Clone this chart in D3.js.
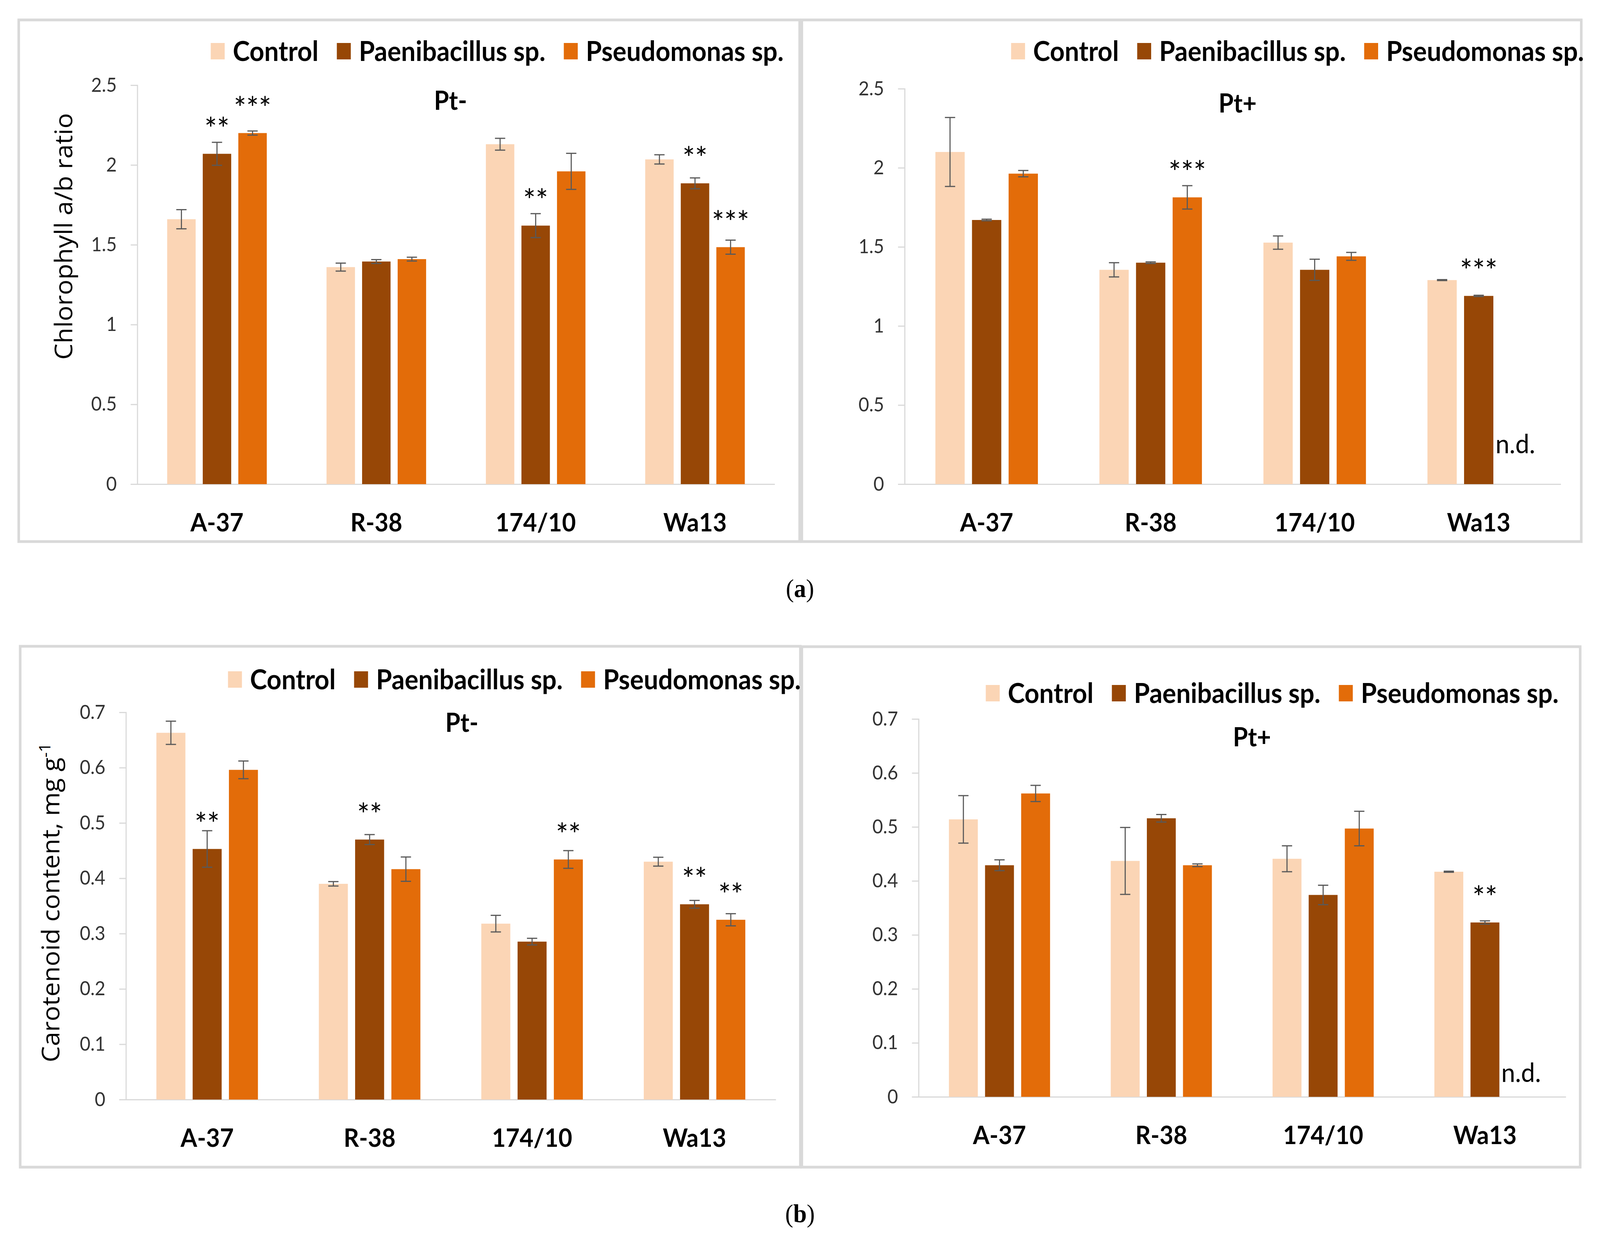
<!DOCTYPE html>
<html>
<head>
<meta charset="utf-8">
<script src="https://cdn.jsdelivr.net/npm/d3@7"></script>
<style>
  html, body { margin: 0; padding: 0; background: #fff; overflow: hidden; }
  svg { display: block; width: 100vw; height: 100vh; }
</style>
</head>
<body>
<svg id="chart" viewBox="0 0 4358 3176" preserveAspectRatio="none"></svg>
<script>
// categories and series
const categories = ["A-37", "R-38", "174/10", "Wa13"];
const seriesNames = ["Control", "Paenibacillus sp.", "Pseudomonas sp."];
const chlTicks = [0, 0.5, 1, 1.5, 2, 2.5];
const carTicks = [0, 0.1, 0.2, 0.3, 0.4, 0.5, 0.6, 0.7];

// (a) chlorophyll a/b ratio, Pt-  (rows = series, cols = categories)
const chlMinusMean = [[1.66, 1.36, 2.13, 2.035], [2.07, 1.395, 1.62, 1.885], [2.20, 1.41, 1.96, 1.485]];
const chlMinusErr = [[0.06, 0.025, 0.037, 0.029], [0.072, 0.012, 0.075, 0.034], [0.013, 0.012, 0.113, 0.044]];
const chlMinusStars = [["", "", "", ""], ["**", "", "**", "**"], ["***", "", "", "***"]];

// (a) chlorophyll a/b ratio, Pt+
const chlPlusMean = [[2.10, 1.355, 1.527, 1.29], [1.67, 1.40, 1.355, 1.19], [1.963, 1.813, 1.44, null]];
const chlPlusErr = [[0.218, 0.045, 0.042, 0.003], [0.005, 0.005, 0.067, 0.004], [0.02, 0.074, 0.025, null]];
const chlPlusStars = [["", "", "", ""], ["", "", "", "***"], ["", "***", "", ""]];

// (b) carotenoid content, Pt-
const carMinusMean = [[0.663, 0.39, 0.318, 0.43], [0.453, 0.47, 0.2855, 0.353], [0.596, 0.4165, 0.434, 0.325]];
const carMinusErr = [[0.021, 0.004, 0.015, 0.008], [0.033, 0.009, 0.006, 0.007], [0.016, 0.022, 0.016, 0.011]];
const carMinusStars = [["", "", "", ""], ["**", "**", "", "**"], ["", "", "**", "**"]];

// (b) carotenoid content, Pt+
const carPlusMean = [[0.514, 0.437, 0.441, 0.417], [0.429, 0.516, 0.374, 0.323], [0.562, 0.429, 0.497, null]];
const carPlusErr = [[0.044, 0.062, 0.024, 0.001], [0.01, 0.007, 0.018, 0.003], [0.015, 0.0025, 0.032, null]];
const carPlusStars = [["", "", "", ""], ["", "", "", "**"], ["", "", "", ""]];

const colors = ["#FBD5B5", "#974706", "#E36C09"];
const font = "Lato, 'Open Sans', sans-serif";

const panels = [
  { box: [51, 51, 2178, 1386], x: [374, 2110], y: [1239, 218], max: 2.5, ticks: chlTicks,
    mean: chlMinusMean, err: chlMinusErr, stars: chlMinusStars,
    title: "Pt-", titlePos: [1227, 258], legend: [574, 131], ndY: 1136,
    yTitle: "Chlorophyll a/b ratio", yTitlePos: [174, 605] },
  { box: [2184, 51, 4307, 1386], x: [2464, 4251], y: [1239, 227], max: 2.5, ticks: chlTicks,
    mean: chlPlusMean, err: chlPlusErr, stars: chlPlusStars,
    title: "Pt+", titlePos: [3371, 265], legend: [2754, 131], ndY: 1136 },
  { box: [55, 1654, 2180, 2987], x: [343, 2113], y: [2814, 1823], max: 0.7, ticks: carTicks,
    mean: carMinusMean, err: carMinusErr, stars: carMinusStars,
    title: "Pt-", titlePos: [1258, 1850], legend: [621, 1739],
    yTitle: "Carotenoid content, mg g", yTitleSup: "-1", yTitlePos: [139, 2310] },
  { box: [2184, 1655, 4304, 2987], x: [2502, 4265], y: [2807, 1840], max: 0.7, ticks: carTicks,
    mean: carPlusMean, err: carPlusErr, stars: carPlusStars,
    title: "Pt+", titlePos: [3410, 1887], legend: [2685, 1774], ndY: 2745 }
];

const svg = d3.select("#chart");
svg.append("rect").attr("width", 4358).attr("height", 3176).attr("fill", "#fff");

panels.forEach(p => {
  const g = svg.append("g");

  // panel frame
  g.append("rect")
    .attr("x", p.box[0]).attr("y", p.box[1])
    .attr("width", p.box[2] - p.box[0]).attr("height", p.box[3] - p.box[1])
    .attr("fill", "none").attr("stroke", "#d9d9d9").attr("stroke-width", 7);

  const x = d3.scaleBand().domain(categories).range(p.x);
  const groupW = x.step() * 0.625;
  const xs = d3.scaleBand().domain(d3.range(3)).range([-groupW / 2, groupW / 2]).paddingInner(0.2);
  const y = d3.scaleLinear().domain([0, p.max]).range(p.y);

  // y axis
  const yAxis = g.append("g")
    .attr("transform", `translate(${p.x[0]},0)`)
    .call(d3.axisLeft(y).tickValues(p.ticks).tickSize(18).tickPadding(38).tickFormat(d => String(d)));
  yAxis.select(".domain").attr("stroke", "#d9d9d9").attr("stroke-width", 3);
  yAxis.selectAll(".tick line").attr("stroke", "#d9d9d9").attr("stroke-width", 3);
  yAxis.selectAll(".tick text")
    .attr("fill", "#333").style("font-family", font).style("font-size", "50px");

  // x axis
  const xAxis = g.append("g")
    .attr("transform", `translate(0,${p.y[0]})`)
    .call(d3.axisBottom(x).tickSize(0).tickPadding(75));
  xAxis.select(".domain").attr("stroke", "#d9d9d9").attr("stroke-width", 3);
  xAxis.selectAll(".tick text")
    .attr("fill", "#000").style("font-family", font).style("font-size", "65px").style("font-weight", "bold");

  // bars, error bars, stars
  const cells = [];
  p.mean.forEach((row, s) => row.forEach((v, c) => cells.push({
    s, c, v, e: p.err[s][c], star: p.stars[s][c]
  })));
  const cx = d => x(categories[d.c]) + x.bandwidth() / 2 + xs(d.s) + xs.bandwidth() / 2;
  const present = cells.filter(d => d.v !== null);

  g.selectAll(".bar").data(present).enter().append("rect")
    .attr("x", d => x(categories[d.c]) + x.bandwidth() / 2 + xs(d.s))
    .attr("y", d => y(d.v))
    .attr("width", xs.bandwidth())
    .attr("height", d => y(0) - y(d.v))
    .attr("fill", d => colors[d.s]);

  const eb = g.selectAll(".err").data(present).enter().append("g")
    .attr("stroke", "#595959").attr("stroke-width", 3);
  eb.append("line").attr("x1", cx).attr("x2", cx)
    .attr("y1", d => y(d.v + d.e)).attr("y2", d => y(d.v - d.e));
  eb.append("line").attr("x1", d => cx(d) - 14).attr("x2", d => cx(d) + 14)
    .attr("y1", d => y(d.v + d.e)).attr("y2", d => y(d.v + d.e));
  eb.append("line").attr("x1", d => cx(d) - 14).attr("x2", d => cx(d) + 14)
    .attr("y1", d => y(d.v - d.e)).attr("y2", d => y(d.v - d.e));

  // significance marks, about 85px above the bar top
  g.selectAll(".star").data(present.filter(d => d.star)).enter().append("text")
    .attr("x", cx)
    .attr("y", d => y(d.v) - 85 + 49)
    .attr("text-anchor", "middle")
    .style("font-family", font).style("font-size", "80px")
    .attr("fill", "#000")
    .text(d => d.star);

  // n.d. for missing values
  g.selectAll(".nd").data(cells.filter(d => d.v === null)).enter().append("text")
    .attr("x", cx).attr("y", p.ndY)
    .attr("dy", "0.35em")
    .attr("text-anchor", "middle")
    .style("font-family", font).style("font-size", "68px")
    .text("n.d.");

  // title
  g.append("text")
    .attr("x", p.titlePos[0]).attr("y", p.titlePos[1]).attr("dy", "0.35em")
    .attr("text-anchor", "middle")
    .style("font-family", font).style("font-size", "66px").style("font-weight", "bold")
    .text(p.title);

  // legend
  let lx = p.legend[0];
  seriesNames.forEach((name, i) => {
    g.append("rect").attr("x", lx).attr("y", p.legend[1] - 21)
      .attr("width", 38).attr("height", 42).attr("fill", colors[i]);
    const t = g.append("text")
      .attr("x", lx + 60).attr("y", p.legend[1]).attr("dy", "0.36em")
      .style("font-family", font).style("font-size", "70px").style("font-weight", "bold")
      .text(name);
    lx += 60 + t.node().getComputedTextLength() + 50;
  });

  // y axis title
  if (p.yTitle) {
    const yt = g.append("text")
      .attr("transform", `translate(${p.yTitlePos[0]},${p.yTitlePos[1]}) rotate(-90)`)
      .attr("text-anchor", "middle").attr("dy", "0.35em")
      .style("font-family", "'Open Sans', sans-serif").style("font-size", "66px")
      .text(p.yTitle);
    if (p.yTitleSup) {
      yt.append("tspan").attr("dy", "-0.6em").style("font-size", "42px").text(p.yTitleSup);
    }
  }
});

// sub-figure labels
[["a", 1505], ["b", 3105]].forEach(([l, yy]) => {
  const t = svg.append("text").attr("x", 2179).attr("y", yy).attr("dy", "0.35em")
    .attr("text-anchor", "middle")
    .style("font-family", "'Liberation Serif', serif").style("font-size", "66px");
  t.append("tspan").text("(");
  t.append("tspan").style("font-weight", "bold").text(l);
  t.append("tspan").text(")");
});
</script>
</body>
</html>
